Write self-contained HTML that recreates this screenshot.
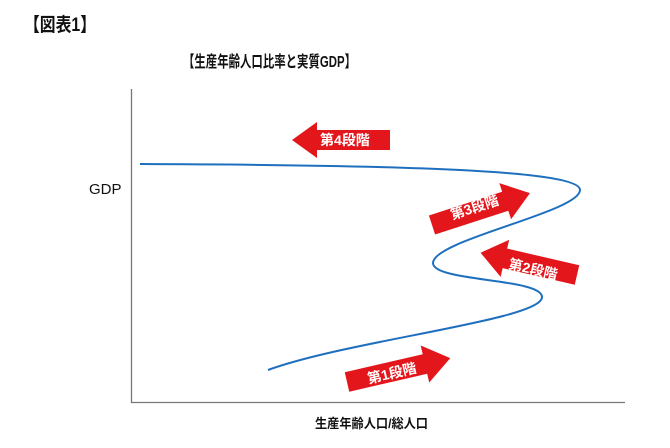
<!DOCTYPE html>
<html><head><meta charset="utf-8"><style>
html,body{margin:0;padding:0;background:#fff;}
svg{display:block;}
text{font-family:"Liberation Sans","Noto Sans CJK JP",sans-serif;}
</style></head><body>
<svg width="670" height="448" viewBox="0 0 670 448" xmlns="http://www.w3.org/2000/svg">
<text x="24" y="31" font-size="19" fill="#111" font-weight="bold" textLength="72" lengthAdjust="spacingAndGlyphs">【図表1】</text>
<text x="183" y="67" font-size="16" fill="#111" font-weight="bold" textLength="173" lengthAdjust="spacingAndGlyphs">【生産年齢人口比率と実質GDP】</text>
<text x="89" y="194" font-size="15" fill="#111">GDP</text>
<text x="315" y="428" font-size="13" fill="#111" font-weight="bold" textLength="113" lengthAdjust="spacingAndGlyphs">生産年齢人口/総人口</text>
<line x1="131.5" y1="89" x2="131.5" y2="403" stroke="#777" stroke-width="1.3"/>
<line x1="131" y1="402.5" x2="625" y2="402.5" stroke="#777" stroke-width="1.3"/>
<path d="M140,164 C400,165 580,170 580,190 C580,212 433,240 433,263 C433,282 542,278 542,297 C542,320 350,340 268,370" fill="none" stroke="#1f6fbf" stroke-width="2"/>
<g fill="#e3161b">
<g transform="translate(390,140) rotate(180)"><polygon points="0,-10 73,-10 73,-18 98,0 73,18 73,10 0,10"/></g>
<g transform="translate(432,225) rotate(-18)"><polygon points="0,-10 77,-10 77,-19 103,0 77,19 77,10 0,10"/></g>
<g transform="translate(577,275) rotate(193)"><polygon points="0,-10 74,-10 74,-19 99,0 74,19 74,10 0,10"/></g>
<g transform="translate(347,382) rotate(-13)"><polygon points="0,-10 80,-10 80,-19 106,0 80,19 80,10 0,10"/></g>
</g>
<g fill="#fff" font-size="14" font-weight="bold">
<text x="320" y="145">第4段階</text>
<text transform="translate(476,212) rotate(-18)" text-anchor="middle">第3段階</text>
<text transform="translate(532,274) rotate(13)" text-anchor="middle">第2段階</text>
<text transform="translate(393,378) rotate(-13)" text-anchor="middle">第1段階</text>
</g>
</svg>
</body></html>
